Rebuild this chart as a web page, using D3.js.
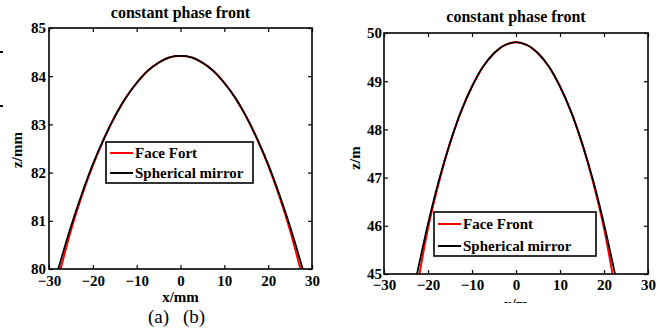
<!DOCTYPE html>
<html>
<head>
<meta charset="utf-8">
<script src="https://cdn.jsdelivr.net/npm/d3@7"></script>
<style>
  body { margin: 0; background: #fff; }
  svg { display: block; }
</style>
</head>
<body>
<div id="chart"></div>
<script>
const FONT = "'Liberation Serif', 'Times New Roman', serif";

// panel (a): x in mm, z in mm
const xA = [-28, -27.5, -25, -22.5, -20, -17.5, -15, -12.5, -10, -7.5, -5, -2.5, 0, 2.5, 5, 7.5, 10, 12.5, 15, 17.5, 20, 22.5, 25, 27.5, 28];
const zSphereA = [79.96, 80.12, 80.88, 81.56, 82.17, 82.70, 83.16, 83.55, 83.86, 84.11, 84.28, 84.39, 84.42, 84.39, 84.28, 84.11, 83.86, 83.55, 83.16, 82.70, 82.17, 81.56, 80.88, 80.12, 79.96];
const zFrontA = [79.78, 79.95, 80.80, 81.52, 82.15, 82.69, 83.16, 83.55, 83.86, 84.11, 84.28, 84.39, 84.42, 84.39, 84.28, 84.11, 83.86, 83.55, 83.16, 82.69, 82.15, 81.52, 80.80, 79.95, 79.78];

// panel (b): x in m, z in m
const xB = [-22.5, -20, -17.5, -15, -12.5, -10, -7.5, -5, -2.5, 0, 2.5, 5, 7.5, 10, 12.5, 15, 17.5, 20, 22.5];
const zSphereB = [45.00, 46.04, 46.95, 47.72, 48.37, 48.89, 49.30, 49.58, 49.75, 49.81, 49.75, 49.58, 49.30, 48.89, 48.37, 47.72, 46.95, 46.04, 45.00];
const zFrontB = [44.70, 45.95, 46.91, 47.71, 48.37, 48.89, 49.30, 49.58, 49.75, 49.81, 49.75, 49.58, 49.30, 48.89, 48.37, 47.71, 46.91, 45.95, 44.70];

const xTicks = [-30, -20, -10, 0, 10, 20, 30];
const yTicksA = [80, 81, 82, 83, 84, 85];
const yTicksB = [45, 46, 47, 48, 49, 50];

const svg = d3.select("#chart").append("svg")
  .attr("width", 665)
  .attr("height", 329);

const zip = (xs, zs) => xs.map((x, i) => ({ x: x, z: zs[i] }));

function boldText(sel, size) {
  sel.attr("font-family", FONT)
    .attr("font-weight", "bold")
    .attr("font-size", size)
    .attr("fill", "#000");
}

function drawPanel(opt) {
  const x = d3.scaleLinear().domain([-30, 30]).range([opt.left, opt.right]);
  const y = d3.scaleLinear().domain(opt.yDomain).range([opt.bottom, opt.top]);
  const g = svg.append("g");

  const clipId = "clip" + opt.id;
  svg.append("clipPath").attr("id", clipId)
    .append("rect")
    .attr("x", opt.left).attr("y", opt.top)
    .attr("width", opt.right - opt.left).attr("height", opt.bottom - opt.top);

  const line = d3.line()
    .x(d => x(d.x))
    .y(d => y(d.z))
    .curve(d3.curveCatmullRom);

  g.append("path")
    .datum(zip(opt.xs, opt.redZ))
    .attr("clip-path", `url(#${clipId})`)
    .attr("fill", "none")
    .attr("stroke", "#ff0000")
    .attr("stroke-width", 2)
    .attr("d", line);

  g.append("path")
    .datum(zip(opt.xs, opt.blackZ))
    .attr("clip-path", `url(#${clipId})`)
    .attr("fill", "none")
    .attr("stroke", "#000")
    .attr("stroke-width", 1.8)
    .attr("d", line);

  // axes, ticks pointing inwards
  const fmt = d3.format("d");
  const axB = g.append("g")
    .attr("transform", `translate(0,${opt.bottom})`)
    .call(d3.axisBottom(x).tickValues(xTicks).tickFormat(fmt).tickSize(-4).tickSizeOuter(0).tickPadding(opt.xPad));
  g.append("g")
    .attr("transform", `translate(0,${opt.top})`)
    .call(d3.axisTop(x).tickValues(xTicks).tickSize(-4).tickSizeOuter(0).tickFormat(""));
  const axL = g.append("g")
    .attr("transform", `translate(${opt.left},0)`)
    .call(d3.axisLeft(y).tickValues(opt.yTicks).tickFormat(fmt).tickSize(-4).tickSizeOuter(0).tickPadding(opt.yPad));
  g.append("g")
    .attr("transform", `translate(${opt.right},0)`)
    .call(d3.axisRight(y).tickValues(opt.yTicks).tickSize(-4).tickSizeOuter(0).tickFormat(""));

  g.selectAll(".domain").attr("stroke", "none");
  g.selectAll(".tick line").attr("stroke", "#000").attr("stroke-width", 1.2);
  boldText(axB.selectAll("text"), 15);
  boldText(axL.selectAll("text"), 15);

  g.append("rect")
    .attr("x", opt.left).attr("y", opt.top)
    .attr("width", opt.right - opt.left).attr("height", opt.bottom - opt.top)
    .attr("fill", "none")
    .attr("stroke", "#000")
    .attr("stroke-width", 1.6);

  g.append("text")
    .attr("x", (opt.left + opt.right) / 2)
    .attr("y", opt.titleY)
    .attr("text-anchor", "middle")
    .call(boldText, 16)
    .text("constant phase front");

  g.append("text")
    .attr("transform", `translate(${opt.yLabelX},${opt.yLabelY}) rotate(-90)`)
    .attr("text-anchor", "middle")
    .call(boldText, 15)
    .text(opt.yLabel);

  const xl = g.append("text")
    .attr("x", (opt.left + opt.right) / 2)
    .attr("y", opt.xLabelY)
    .attr("text-anchor", "middle")
    .call(boldText, 15)
    .text(opt.xLabel);
  if (opt.cutY) {
    svg.append("clipPath").attr("id", clipId + "x")
      .append("rect").attr("x", 0).attr("y", 0).attr("width", 665).attr("height", opt.cutY);
    xl.attr("clip-path", `url(#${clipId}x)`);
  }

  // legend
  const lg = g.append("g");
  lg.append("rect")
    .attr("x", opt.lg.x).attr("y", opt.lg.y)
    .attr("width", opt.lg.w).attr("height", opt.lg.h)
    .attr("fill", "#fff")
    .attr("stroke", "#000")
    .attr("stroke-width", 1.6);
  const items = [
    { name: opt.redName, color: "#ff0000" },
    { name: "Spherical mirror", color: "#000" }
  ];
  items.forEach((d, i) => {
    const cy = opt.lg.y + opt.lg.row0 + i * opt.lg.step;
    lg.append("line")
      .attr("x1", opt.lg.x + 4).attr("x2", opt.lg.x + 27)
      .attr("y1", cy).attr("y2", cy)
      .attr("stroke", d.color)
      .attr("stroke-width", 2);
    lg.append("text")
      .attr("x", opt.lg.x + 29)
      .attr("y", cy)
      .attr("dy", "0.35em")
      .call(boldText, 15)
      .text(d.name);
  });
}

drawPanel({
  id: "a", left: 49, right: 312, top: 28, bottom: 269,
  yDomain: [80, 85], yTicks: yTicksA, xPad: 6, yPad: 3,
  xs: xA, blackZ: zSphereA, redZ: zFrontA,
  titleY: 18, yLabel: "z/mm", yLabelX: 22, yLabelY: 150,
  xLabel: "x/mm", xLabelY: 302,
  redName: "Face Fort",
  lg: { x: 106, y: 142, w: 147, h: 41, row0: 11, step: 20 }
});

drawPanel({
  id: "b", left: 384, right: 648, top: 33, bottom: 274,
  yDomain: [45, 50], yTicks: yTicksB, xPad: 5, yPad: 2,
  xs: xB, blackZ: zSphereB, redZ: zFrontB,
  titleY: 22, yLabel: "z/m", yLabelX: 360, yLabelY: 158,
  xLabel: "x/m", xLabelY: 309, cutY: 303,
  redName: "Face Front",
  lg: { x: 434, y: 212, w: 162, h: 44, row0: 12, step: 22 }
});

// stray marks at the left edge
[52, 106].forEach(yy => {
  svg.append("line")
    .attr("x1", 0).attr("x2", 3)
    .attr("y1", yy).attr("y2", yy)
    .attr("stroke", "#000").attr("stroke-width", 2);
});

svg.append("text").attr("x", 148).attr("y", 323)
  .attr("font-family", FONT).attr("font-size", 19).text("(a)");
svg.append("text").attr("x", 183).attr("y", 323)
  .attr("font-family", FONT).attr("font-size", 19).text("(b)");
</script>
</body>
</html>
